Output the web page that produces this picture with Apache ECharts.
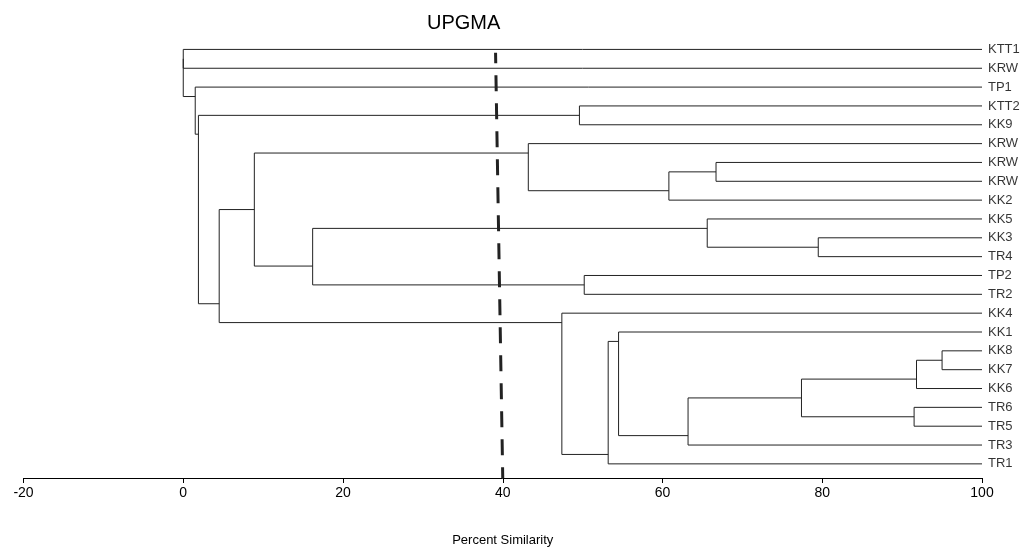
<!DOCTYPE html>
<html>
<head>
<meta charset="utf-8">
<script src="https://cdn.jsdelivr.net/npm/echarts@6/dist/echarts.min.js"></script>
<style>
html, body { margin: 0; padding: 0; background: #fff; }
#main { width: 1024px; height: 554px; }
</style>
</head>
<body>
<div id="main"></div>
<script>
var myChart = echarts.init(document.getElementById('main'));

// leaves, top to bottom
var leaves = ['KTT1', 'KRW', 'TP1', 'KTT2', 'KK9', 'KRW', 'KRW', 'KRW', 'KK2', 'KK5', 'KK3', 'TR4',
    'TP2', 'TR2', 'KK4', 'KK1', 'KK8', 'KK7', 'KK6', 'TR6', 'TR5', 'TR3', 'TR1'];

// merges: [first child, second child, similarity]
// number = leaf index, 'mN' = result of merge N
var merges = [
    [6, 7, 66.7],
    [3, 4, 49.6],
    ['m0', 8, 60.8],
    [5, 'm2', 43.2],
    [10, 11, 79.5],
    [9, 'm4', 65.6],
    [12, 13, 50.2],
    ['m5', 'm6', 16.2],
    ['m3', 'm7', 8.9],
    [16, 17, 95.0],
    ['m9', 18, 91.8],
    [19, 20, 91.5],
    ['m10', 'm11', 77.4],
    ['m12', 21, 63.2],
    [15, 'm13', 54.5],
    ['m14', 22, 53.2],
    [14, 'm15', 47.4],
    ['m8', 'm16', 4.5],
    ['m1', 'm17', 1.9],
    [2, 'm18', 1.5],
    [0, 1, 0],
    ['m20', 'm19', 0]
];

// cut-off line (UPGMA)
var cutLine = [[39.1, 0.18], [40, 22.75]];

var xTicks = { min: -20, max: 100, interval: 20 };

// 计算各节点的位置
var nodes = {};
function child(c) {
    if (typeof c === 'number') {
        return { h: 100, row: c, first: c, last: c };
    }
    return nodes[c];
}
var branchData = [];
for (var i = 0; i < merges.length; i++) {
    var a = child(merges[i][0]);
    var b = child(merges[i][1]);
    var h = merges[i][2];
    nodes['m' + i] = { h: h, row: a.last + 0.5, first: a.first, last: b.last };
    branchData.push([h, a.h, a.row, b.h, b.row]);
}

var leafData = [];
for (var j = 0; j < leaves.length; j++) {
    leafData.push({ name: leaves[j], value: [100, j] });
}

var font = "'Liberation Sans', Arial, sans-serif";

option = {
    animation: false,
    backgroundColor: '#fff',
    title: {
        text: 'UPGMA',
        left: 422,
        top: 8,
        textStyle: { fontFamily: font, fontSize: 20, fontWeight: 'normal', color: '#000' }
    },
    grid: { left: 23.5, right: 42, top: 40, bottom: 76 },
    xAxis: {
        type: 'value',
        position: 'bottom',
        min: xTicks.min,
        max: xTicks.max,
        interval: xTicks.interval,
        name: 'Percent Similarity',
        nameLocation: 'middle',
        nameGap: 56,
        nameTextStyle: { fontFamily: font, fontSize: 13, color: '#000' },
        axisLine: { show: true, onZero: false, lineStyle: { color: '#000', width: 1 } },
        axisTick: { show: true, length: 5, lineStyle: { color: '#000' } },
        axisLabel: { fontFamily: font, fontSize: 14, color: '#000', margin: 8 },
        splitLine: { show: false }
    },
    yAxis: {
        type: 'value',
        inverse: true,
        min: -0.5,
        max: 22.75,
        show: false
    },
    series: [{
        type: 'custom',
        data: branchData,
        encode: { x: [0, 1, 3], y: [2, 4] },
        renderItem: function (params, api) {
            var h = api.value(0), ha = api.value(1), ra = api.value(2), hb = api.value(3), rb = api.value(4);
            return {
                type: 'polyline',
                shape: {
                    points: [api.coord([ha, ra]), api.coord([h, ra]), api.coord([h, rb]), api.coord([hb, rb])]
                },
                style: { stroke: '#222', lineWidth: 1, fill: null }
            };
        },
        silent: true
    }, {
        type: 'scatter',
        data: leafData,
        symbolSize: 0,
        label: {
            show: true,
            position: 'right',
            distance: 6,
            formatter: '{b}',
            fontFamily: font,
            fontSize: 13,
            color: '#000'
        },
        silent: true
    }, {
        type: 'line',
        data: cutLine,
        symbol: 'none',
        lineStyle: { color: '#222', width: 3, type: [16, 12], dashOffset: 5.5 },
        silent: true
    }]
};

myChart.setOption(option);
</script>
</body>
</html>
